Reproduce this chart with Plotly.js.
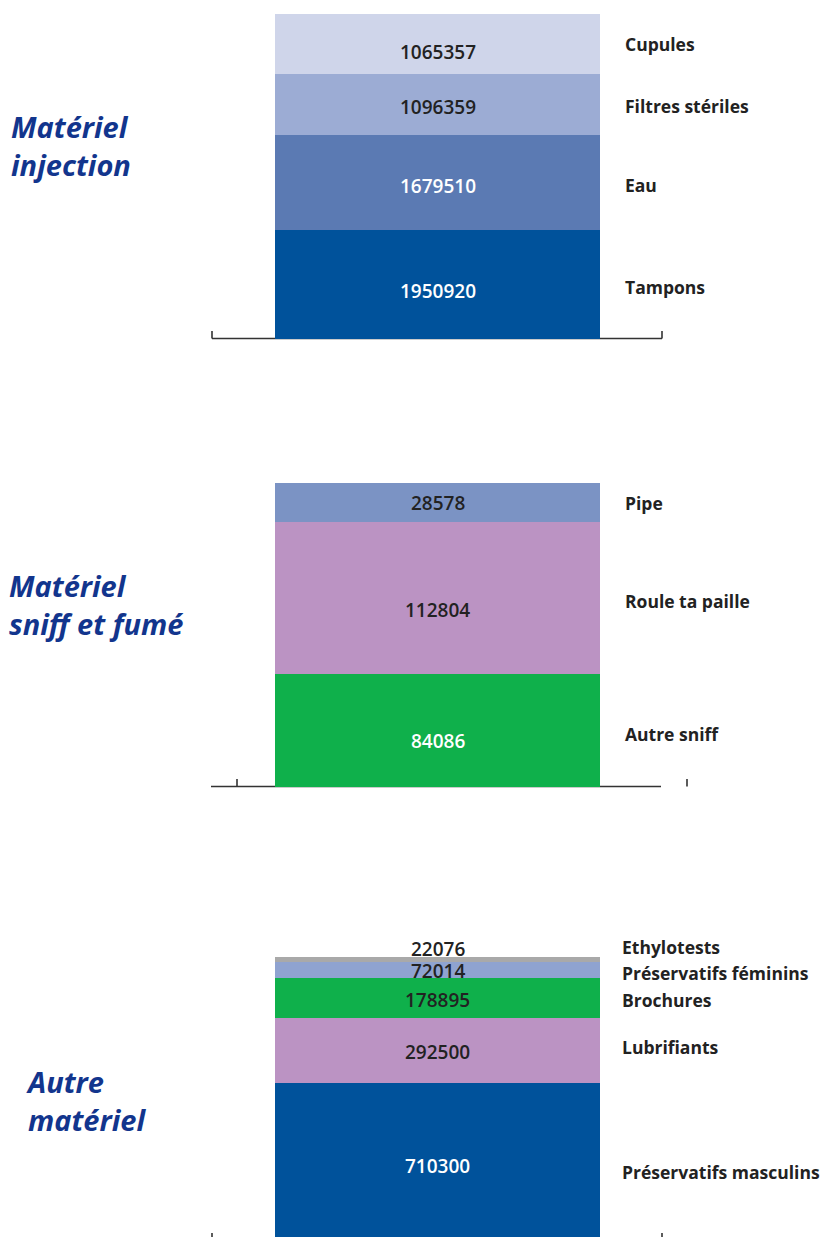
<!DOCTYPE html>
<html><head><meta charset="utf-8">
<script src="https://cdn.plot.ly/plotly-3.0.1.min.js"></script>
<style>html,body{margin:0;padding:0;overflow:hidden;background:#fff}</style>
</head><body><div id="chart"></div>
<script>
// ---- data ----
const groupNames = ['Matériel injection', 'Matériel sniff et fumé', 'Autre matériel'];
const groupTitles = ['Matériel<br>injection', 'Matériel<br>sniff et fumé', 'Autre<br>matériel'];

const injectionCategories = ['Tampons', 'Eau', 'Filtres stériles', 'Cupules'];
const injectionValues = [1950920, 1679510, 1096359, 1065357];

const sniffCategories = ['Autre sniff', 'Roule ta paille', 'Pipe'];
const sniffValues = [84086, 112804, 28578];

const autreCategories = ['Préservatifs masculins', 'Lubrifiants', 'Brochures', 'Préservatifs féminins', 'Ethylotests'];
const autreValues = [710300, 292500, 178895, 72014, 22076];

// ---- styles ----
const injectionColors = ['#00529b', '#5b7ab3', '#9cacd4', '#cfd5ea'];
const sniffColors = ['#0fb04b', '#bb93c3', '#7b93c4'];
const autreColors = ['#00529b', '#bb93c3', '#0fb04b', '#8fa3d0', '#a9a9a9'];
const injectionTextColors = ['#ffffff', '#ffffff', '#222222', '#222222'];
const sniffTextColors = ['#ffffff', '#222222', '#222222'];
const autreTextColors = ['#ffffff', '#222222', '#222222', '#222222', '#222222'];
// small vertical nudges (px) of value and name labels
const injectionValueShift = [-7, -4, -2, -8];
const sniffValueShift = [-11, -12, -1];
const autreValueShift = [-4, -2, -2, -1, 10];
const injectionNameShift = [-3, -3, -1, 0];
const sniffNameShift = [-4, -3, -1];
const autreNameShift = [-10, 3, -2, -3, 12];

const W = 829, H = 1248;
const py = p => 1 - p / H;
const px = p => p / W;

const panels = [
  {cats: injectionCategories, vals: injectionValues, colors: injectionColors, tcol: injectionTextColors,
   vs: injectionValueShift, ns: injectionNameShift, top: 14, bottom: 339, titleX: 9, titleY: 145, nameX: 623,
   axis: {y: 338.5, x0: 212, x1: 662, ticks: [[212, 331], [662, 331]]}},
  {cats: sniffCategories, vals: sniffValues, colors: sniffColors, tcol: sniffTextColors,
   vs: sniffValueShift, ns: sniffNameShift, top: 483, bottom: 787, titleX: 7, titleY: 605, nameX: 623,
   axis: {y: 786.5, x0: 211, x1: 661, ticks: [[237, 779], [687, 779]]}},
  {cats: autreCategories, vals: autreValues, colors: autreColors, tcol: autreTextColors,
   vs: autreValueShift, ns: autreNameShift, top: 957, bottom: 1241, titleX: 24, titleY: 1100, nameX: 620,
   axis: {y: 1240.5, x0: 212, x1: 662, ticks: [[212, 1233], [662, 1233]]}}
];

const traces = [];
const annotations = [];
const shapes = [];
const layout = {
  width: W, height: H,
  margin: {l: 0, r: 0, t: 0, b: 0},
  paper_bgcolor: '#ffffff', plot_bgcolor: 'rgba(0,0,0,0)',
  barmode: 'stack', showlegend: false,
  font: {family: 'Open Sans, sans-serif', color: '#222222'}
};

const barCenter = 437.5, barWidthPx = 325;
panels.forEach((p, i) => {
  const sfx = i === 0 ? '' : String(i + 1);
  const xa = 'x' + sfx, ya = 'y' + sfx;
  const total = p.vals.reduce((a, b) => a + b, 0);
  layout['xaxis' + sfx] = {domain: [0, 1], type: 'category', visible: false, fixedrange: true,
    range: [-barCenter / barWidthPx, (W - barCenter) / barWidthPx], anchor: ya};
  layout['yaxis' + sfx] = {domain: [py(p.bottom), py(p.top)], range: [0, total], visible: false,
    fixedrange: true, anchor: xa};
  let cum = 0;
  p.cats.forEach((c, j) => {
    const v = p.vals[j];
    traces.push({type: 'bar', x: [groupNames[i]], y: [v], name: c, width: 1,
      marker: {color: p.colors[j], line: {width: 0}}, xaxis: xa, yaxis: ya, hoverinfo: 'name+y'});
    const mid = cum + v / 2;
    annotations.push({xref: xa, yref: ya, x: groupNames[i], y: mid, text: String(v), showarrow: false,
      yshift: p.vs[j], font: {size: 19, color: p.tcol[j], weight: 600, family: 'Open Sans, sans-serif'}});
    annotations.push({xref: 'paper', yref: ya, x: px(p.nameX), y: mid, xanchor: 'left', text: c, showarrow: false,
      yshift: p.ns[j], font: {size: 17.5, color: '#222222', weight: 700, family: 'Open Sans, sans-serif'}});
    cum += v;
  });
  annotations.push({xref: 'paper', yref: 'paper', x: px(p.titleX), y: py(p.titleY), xanchor: 'left',
    yanchor: 'middle', align: 'left', text: '<b><i>' + groupTitles[i] + '</i></b>', showarrow: false,
    font: {size: 29, color: '#12358d', family: 'Open Sans, sans-serif'}});
  const a = p.axis;
  shapes.push({type: 'line', xref: 'paper', yref: 'paper', layer: 'below', x0: px(a.x0), x1: px(a.x1),
    y0: py(a.y), y1: py(a.y), line: {color: '#333333', width: 1.6}});
  a.ticks.forEach(t => shapes.push({type: 'line', xref: 'paper', yref: 'paper', layer: 'below',
    x0: px(t[0]), x1: px(t[0]), y0: py(a.y), y1: py(t[1]), line: {color: '#333333', width: 1.6}}));
});
layout.annotations = annotations;
layout.shapes = shapes;

Plotly.newPlot('chart', traces, layout, {displayModeBar: false, staticPlot: true});
</script></body></html>
